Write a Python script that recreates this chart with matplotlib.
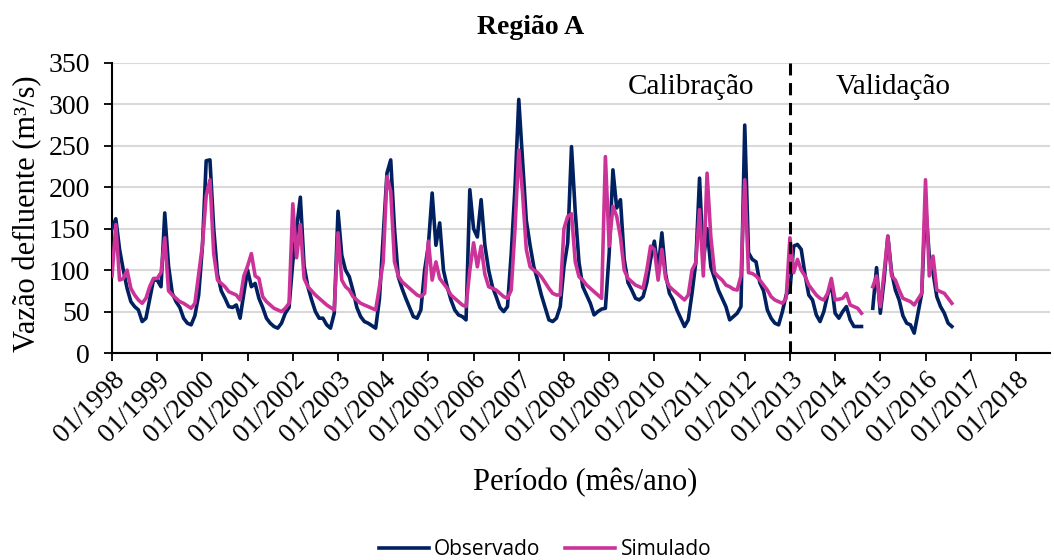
import matplotlib.pyplot as plt
import numpy as np

nan = np.nan

# monthly observed / simulated flows (m3/s), 01/1998 .. 08/2016
obs = {
    1998: [150, 162, 125, 100, 78, 62, 56, 52, 38, 42, 65, 88],
    1999: [88, 80, 169, 105, 72, 62, 55, 42, 36, 34, 45, 70],
    2000: [129, 232, 233, 150, 95, 75, 66, 56, 55, 58, 42, 72],
    2001: [100, 80, 84, 66, 55, 42, 36, 32, 30, 36, 48, 55],
    2002: [110, 150, 188, 105, 80, 64, 50, 42, 42, 34, 30, 48],
    2003: [171, 118, 100, 92, 75, 55, 44, 38, 36, 33, 30, 65],
    2004: [140, 217, 233, 150, 92, 78, 66, 55, 44, 42, 52, 100],
    2005: [130, 193, 130, 157, 100, 80, 64, 52, 46, 44, 40, 197],
    2006: [150, 140, 185, 130, 100, 80, 68, 55, 50, 56, 120, 200],
    2007: [306, 233, 160, 130, 104, 88, 70, 55, 40, 38, 42, 56],
    2008: [104, 133, 249, 170, 109, 80, 70, 60, 46, 50, 53, 54],
    2009: [120, 221, 175, 185, 113, 85, 76, 66, 64, 68, 85, 113],
    2010: [135, 100, 145, 95, 72, 64, 52, 42, 32, 40, 72, 109],
    2011: [211, 110, 150, 104, 90, 76, 66, 56, 40, 44, 48, 56],
    2012: [275, 121, 113, 110, 85, 75, 52, 42, 36, 34, 50, 70],
    2013: [76, 129, 131, 125, 95, 70, 64, 46, 38, 50, 70, 84],
    2014: [48, 42, 50, 56, 40, 32, 32, 32, nan, nan, 54, 103],
    2015: [48, 88, 141, 97, 76, 64, 45, 36, 34, 24, 48, 72],
    2016: [180, 117, 97, 68, 56, 48, 36, 32],
}
sim = {
    1998: [93, 155, 88, 90, 100, 78, 70, 64, 60, 66, 80, 90],
    1999: [90, 97, 139, 75, 70, 66, 62, 60, 57, 54, 60, 95],
    2000: [130, 190, 209, 120, 88, 84, 80, 74, 72, 70, 64, 93],
    2001: [105, 120, 93, 90, 68, 62, 58, 54, 52, 50, 54, 60],
    2002: [180, 115, 155, 90, 80, 75, 70, 66, 62, 58, 55, 52],
    2003: [145, 88, 80, 76, 68, 64, 60, 58, 56, 54, 52, 80],
    2004: [110, 213, 195, 110, 93, 86, 82, 78, 74, 70, 68, 72],
    2005: [135, 88, 110, 90, 84, 78, 70, 66, 62, 58, 56, 100],
    2006: [133, 104, 129, 95, 80, 78, 76, 72, 68, 66, 76, 150],
    2007: [245, 193, 125, 104, 100, 97, 92, 85, 78, 72, 70, 70],
    2008: [150, 165, 168, 110, 92, 88, 82, 78, 74, 70, 66, 237],
    2009: [129, 177, 165, 140, 100, 90, 86, 82, 80, 78, 100, 129],
    2010: [125, 88, 125, 90, 80, 76, 72, 68, 64, 70, 100, 109],
    2011: [173, 93, 217, 140, 97, 92, 88, 82, 80, 77, 76, 93],
    2012: [209, 97, 96, 93, 88, 82, 76, 68, 64, 62, 60, 66],
    2013: [139, 97, 113, 100, 93, 82, 76, 70, 66, 64, 72, 90],
    2014: [64, 65, 66, 72, 58, 56, 54, 48, nan, nan, 80, 93],
    2015: [56, 97, 141, 93, 88, 76, 66, 64, 62, 58, 65, 72],
    2016: [209, 93, 117, 76, 74, 72, 66, 60],
}
years = list(range(1998, 2019))
tick_labels = ["01/%d" % y for y in years]
split_month = 180  # 01/2013

observado = np.array([v for y in obs for v in obs[y]], dtype=float)
simulado = np.array([v for y in sim for v in sim[y]], dtype=float)
months = np.arange(len(observado))

serif = "Liberation Serif"
fig = plt.figure(figsize=(10.54, 5.6), dpi=100)
ax = fig.add_axes([0.1063, 0.3696, 0.8897, 0.518])

ax.plot(months, observado, color="#002060", lw=2.6, label="Observado", zorder=3)
ax.plot(months, simulado, color="#CC3399", lw=2.6, label="Simulado", zorder=4)
ax.axvline(split_month, color="black", lw=2.2, ls=(0, (4, 2.5)), zorder=5)

ax.set_xlim(0, 249)
ax.set_ylim(0, 350)
ax.set_yticks(np.arange(0, 351, 50))
ax.set_xticks(np.arange(0, 241, 12))
ax.set_xticklabels(tick_labels, rotation=45, ha="right", rotation_mode="anchor",
                   family=serif, fontsize=19.5)
for t in ax.get_yticklabels():
    t.set_family(serif)
    t.set_fontsize(20)
ax.tick_params(axis="both", direction="out", length=6, width=1.3, color="black")
ax.tick_params(axis="y", pad=10)
ax.tick_params(axis="x", pad=4)

ax.grid(axis="y", color="#d9d9d9", lw=1.5)
ax.set_axisbelow(True)
for s in ["top", "right"]:
    ax.spines[s].set_visible(False)
ax.spines["left"].set_linewidth(1.5)
ax.spines["bottom"].set_linewidth(1.5)

ax.text(153.6, 321, "Calibração", family=serif, fontsize=21, ha="center", va="center")
ax.text(207.3, 321, "Validação", family=serif, fontsize=21, ha="center", va="center")

fig.text(0.0266, 0.618, "Vazão defluente (m³/s)", family=serif, fontsize=22,
         rotation=90, ha="center", va="center")
fig.text(0.555, 0.138, "Período (mês/ano)", family=serif, fontsize=22, ha="center", va="center")
fig.text(0.503, 0.95, "Região A", family=serif, fontsize=20, weight="bold", ha="center", va="center")

fig.legend(loc="center", bbox_to_anchor=(0.517, 0.018), ncol=2, frameon=False,
           prop={"family": "Open Sans", "size": 15}, handlelength=2.4,
           handletextpad=0.25, columnspacing=1.2)

fig.savefig("out.png", dpi=100)
